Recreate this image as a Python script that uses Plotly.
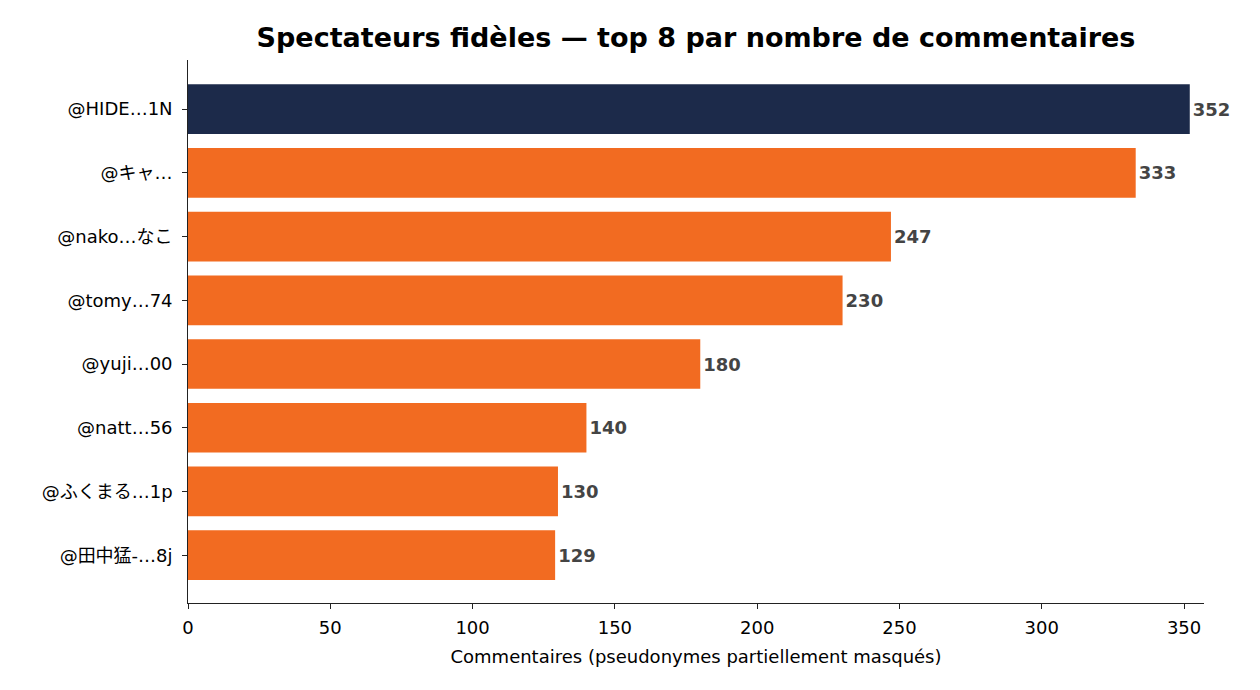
import plotly.graph_objects as go

# top 8 commenters (pseudonyms partly masked)
users = ["@HIDE…1N", "@キャ…", "@nako…なこ", "@tomy…74",
         "@yuji…00", "@natt…56", "@ふくまる…1p", "@田中猛-…8j"]
comments = [352, 333, 247, 230, 180, 140, 130, 129]

x_ticks = [0, 50, 100, 150, 200, 250, 300, 350]

NAVY = "#1c2a4a"
ORANGE = "#f26b21"
FONT = "DejaVu Sans, Noto Sans CJK JP"

colors = [NAVY] + [ORANGE] * (len(users) - 1)

fig = go.Figure()
fig.add_trace(go.Bar(x = comments,
                     y = users,
                     orientation = "h",
                     marker_color = colors,
                     marker_line_width = 0,
                     text = [str(v) for v in comments],
                     textposition = "outside",
                     cliponaxis = False,
                     textfont = dict(family = FONT, size = 18, color = "#444444", weight = "bold"),
                     hovertemplate = "%{y}: %{x}<extra></extra>"))

# page body has an 8px margin, so the figure is a bit smaller than the window
fig.update_layout(width = 1252,
                  height = 682,
                  margin = dict(l = 180, r = 56, t = 52, b = 87),
                  plot_bgcolor = "white",
                  paper_bgcolor = "white",
                  font = dict(family = FONT, size = 18, color = "black"),
                  title = dict(text = "<b>Spectateurs fidèles — top 8 par nombre de commentaires</b>",
                               x = 0.5,
                               xref = "paper",
                               xanchor = "center",
                               y = 0.957,
                               yref = "container",
                               yanchor = "middle",
                               font = dict(family = FONT, size = 27, color = "black")),
                  bargap = 0.22,
                  showlegend = False,
                  xaxis_title = dict(text = "Commentaires (pseudonymes partiellement masqués)",
                                     font = dict(size = 18), standoff = 13),
                  xaxis_range = [0, 357],
                  xaxis_tickvals = x_ticks,
                  xaxis_showline = True,
                  xaxis_linecolor = "#222222",
                  xaxis_linewidth = 1.2,
                  xaxis_ticks = "outside",
                  xaxis_ticklen = 5,
                  xaxis_tickcolor = "#222222",
                  xaxis_ticklabelstandoff = 3,
                  xaxis_showgrid = False,
                  xaxis_zeroline = False,
                  yaxis_range = [len(users) - 0.25, -0.77],
                  yaxis_showline = True,
                  yaxis_linecolor = "#222222",
                  yaxis_linewidth = 1.2,
                  yaxis_ticks = "outside",
                  yaxis_ticklen = 5,
                  yaxis_tickcolor = "#222222",
                  yaxis_showgrid = False,
                  yaxis_ticksuffix = " ")

fig.write_html("out.html")
